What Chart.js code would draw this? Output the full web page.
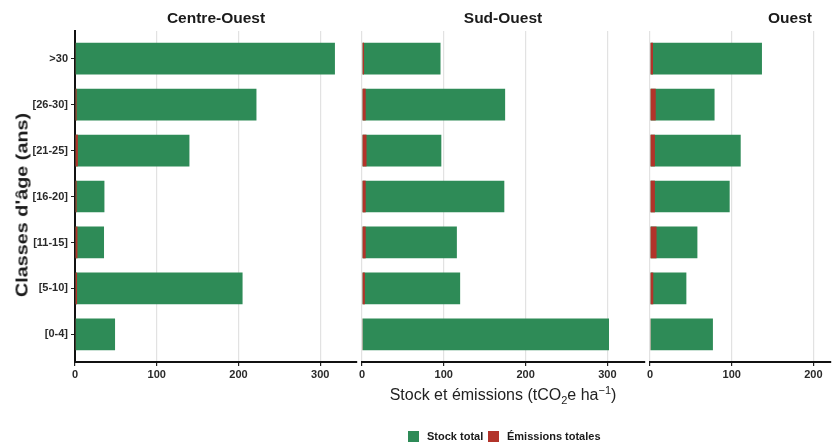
<!DOCTYPE html>
<html>
<head>
<meta charset="utf-8">
<script src="https://cdn.jsdelivr.net/npm/chart.js@4.4.1/dist/chart.umd.min.js"></script>
<style>
  body{margin:0;background:#fff;font-family:"Liberation Sans",Arial,sans-serif;}
  #wrap{position:relative;width:838px;height:445px;overflow:hidden;}
  #wrap canvas{position:absolute;top:0;}
  .strip{position:absolute;top:9px;line-height:18px;font-weight:bold;font-size:15.5px;color:#1a1a1a;transform:translateX(-50%);white-space:nowrap;}
  .ytitle{position:absolute;left:22px;top:205px;font-weight:bold;font-size:16.5px;color:#1a1a1a;white-space:nowrap;transform:translate(-50%,-50%) rotate(-90deg) scaleX(1.2);}
  .xtitle{position:absolute;left:503px;top:384px;font-size:16px;color:#222;white-space:nowrap;transform:translateX(-50%);line-height:22px;}
  .xtitle sub,.xtitle sup{font-size:11px;line-height:0;}
  .sw{position:absolute;top:431px;width:11px;height:11px;}
  .lt{position:absolute;top:430px;font-size:11px;font-weight:bold;color:#1a1a1a;line-height:13px;white-space:nowrap;}
</style>
</head>
<body>
<div id="wrap">
  <canvas id="p1" width="360" height="390" style="left:0px"></canvas>
  <canvas id="p2" width="296" height="390" style="left:352px"></canvas>
  <canvas id="p3" width="196" height="390" style="left:640px"></canvas>
  <div class="strip" style="left:216px">Centre-Ouest</div>
  <div class="strip" style="left:503px">Sud-Ouest</div>
  <div class="strip" style="left:790px">Ouest</div>
  <div class="ytitle">Classes d'âge (ans)</div>
  <div class="xtitle">Stock et émissions (tCO<sub>2</sub>e ha<sup>−1</sup>)</div>
  <div class="sw" style="left:408px;background:#2e8b57"></div>
  <div class="lt" style="left:427px">Stock total</div>
  <div class="sw" style="left:488px;background:#b2332a"></div>
  <div class="lt" style="left:507px">Émissions totales</div>
</div>
<script>
// age classes, bottom to top
const ageClasses = ['[0-4]','[5-10]','[11-15]','[16-20]','[21-25]','[26-30]','>30'];

// Centre-Ouest
const stockCO = [49, 205, 35.5, 36, 140, 222, 318];
const emisCO  = [0.5, 2.5, 3, 2, 3.5, 2, 0.5];
// Sud-Ouest
const stockSO = [302, 120, 116, 174, 97, 175, 96];
const emisSO  = [0.5, 3.5, 4.5, 4.5, 5.5, 4.5, 2.5];
// Ouest
const stockO  = [77, 44.5, 58, 97.5, 111, 79, 137];
const emisO   = [0.5, 4, 8, 6, 6, 7, 3.7];

const xMax = [345, 346, 221.5];

const GREEN = '#2e8b57', RED = '#b2332a';
const tickFont = {family:'"Liberation Sans", Arial, sans-serif', size:11, weight:'bold'};

function toPoints(arr){ return arr.map((v,i)=>({x:v, y:i})); }

function makePanel(id, stock, emis, xmax, showY, pad){
  new Chart(document.getElementById(id), {
    type:'bar',
    data:{ datasets:[
      {label:'Émissions totales', data:toPoints(emis), backgroundColor:RED, order:0},
      {label:'Stock total', data:toPoints(stock), backgroundColor:GREEN, order:1}
    ]},
    options:{
      indexAxis:'y', responsive:false, animation:false, devicePixelRatio:1,
      grouped:false, categoryPercentage:1, barPercentage:0.69,
      layout:{padding:pad},
      plugins:{legend:{display:false}, tooltip:{enabled:false}},
      scales:{
        x:{type:'linear', min:0, max:xmax,
          ticks:{stepSize:100, includeBounds:false, font:tickFont, color:'#2a2a2a', padding:2, maxRotation:0},
          grid:{color:'#e2e2e2', lineWidth:1.2, tickColor:'#222', tickLength:4},
          border:{display:true, color:'#111', width:2},
          afterFit:s=>{ s.height = 25; }
        },
        y:{type:'linear', min:-0.6, max:6.6, display:showY, z:1, offset:false,
          ticks:{stepSize:1, includeBounds:false, font:tickFont, color:'#2a2a2a', padding:3,
            callback:v=>Number.isInteger(v) ? ageClasses[v] : ''},
          grid:{offset:false, drawOnChartArea:false, tickColor:'#222', tickLength:4},
          border:{display:true, color:'#111', width:2},
          afterFit:s=>{ s.width = showY ? 75 : 0; }
        }
      }
    }
  });
}

makePanel('p1', stockCO, emisCO, xMax[0], true,  {top:31, bottom:3, left:0, right:3});
makePanel('p2', stockSO, emisSO, xMax[1], false, {top:31, bottom:3, left:10, right:3});
makePanel('p3', stockO,  emisO,  xMax[2], false, {top:31, bottom:3, left:10, right:5});
</script>
</body>
</html>
